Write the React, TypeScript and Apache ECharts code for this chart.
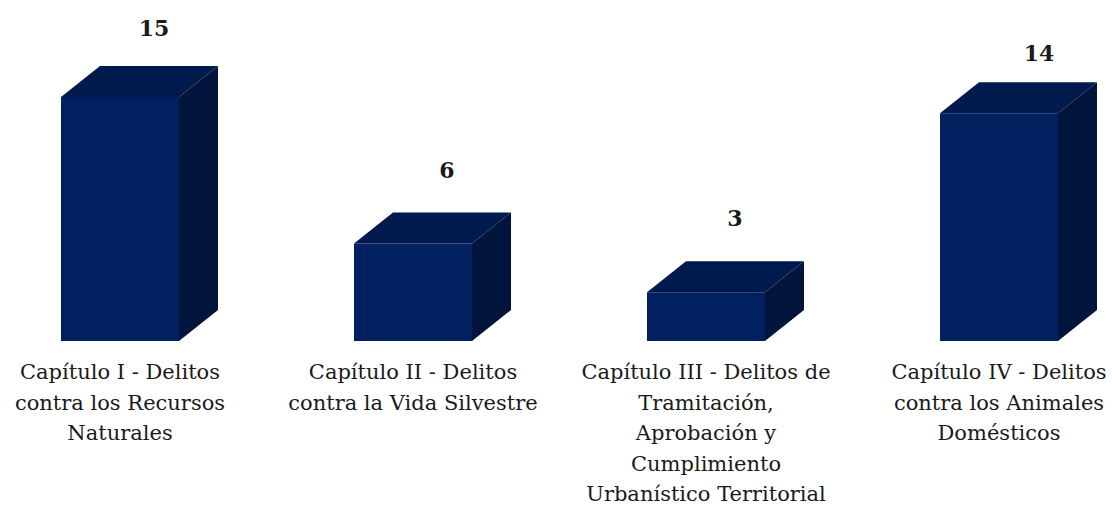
import React, { useEffect, useRef } from "react";
import * as echarts from "echarts";

const categories = [
  "Capítulo I - Delitos\ncontra los Recursos\nNaturales",
  "Capítulo II - Delitos\ncontra la Vida Silvestre",
  "Capítulo III - Delitos de\nTramitación,\nAprobación y\nCumplimiento\nUrbanístico Territorial",
  "Capítulo IV - Delitos\ncontra los Animales\nDomésticos",
];
const values = [15, 6, 3, 14];

const labelShiftX = [34, 34, 29, 40];
const labelLift = [69, 73, 74, 60];

const FONT = "'DejaVu Serif', 'Liberation Serif', serif";

export default function App() {
  const ref = useRef<HTMLDivElement>(null);
  useEffect(() => {
    document.body.style.margin = "0";
    const chart = echarts.init(ref.current!, undefined, { renderer: "svg" });
    chart.setOption({
      animation: false,
      backgroundColor: "#ffffff",
      grid: { left: 120, top: 97, width: 879, height: 244, containLabel: false, outerBoundsMode: "none" },
      xAxis: {
        type: "category",
        data: categories,
        boundaryGap: false,
        axisLine: { show: false },
        axisTick: { show: false },
        axisLabel: {
          interval: 0,
          margin: 16,
          fontFamily: FONT,
          fontSize: 21,
          lineHeight: 30.5,
          color: "#1a1a1a",
          verticalAlign: "top",
          hideOverlap: false,
          showMinLabel: true,
          showMaxLabel: true,
        },
      },
      yAxis: { type: "value", min: 0, max: 15, show: false },
      series: [
        {
          type: "custom",
          clip: false,
          data: values.map((v, i) => [i, v]),
          encode: { x: 0, y: 1 },
          renderItem: (p: any, api: any) => {
            const [cx, top] = api.coord([api.value(0), api.value(1)]);
            const [, base] = api.coord([api.value(0), 0]);
            const hw = 59, dx = 39, dy = 31;
            const l = cx - hw, r = cx + hw;
            return {
              type: "group",
              children: [
                { type: "rect", shape: { x: l, y: top, width: r - l, height: base - top }, style: { fill: "#002060" } },
                { type: "polygon", shape: { points: [[l, top], [l + dx, top - dy], [r + dx, top - dy], [r, top]] }, style: { fill: "#001A4D" } },
                { type: "polygon", shape: { points: [[r, top], [r + dx, top - dy], [r + dx, base - dy], [r, base]] }, style: { fill: "#00143C" } },
                {
                  type: "text",
                  style: {
                    text: String(api.value(1)),
                    x: cx + labelShiftX[p.dataIndex],
                    y: top - labelLift[p.dataIndex],
                    align: "center",
                    verticalAlign: "middle",
                    fontFamily: FONT,
                    fontSize: 22,
                    fontWeight: "bold",
                    fill: "#1a1a1a",
                  },
                },
              ],
            };
          },
        },
      ],
    });
    return () => chart.dispose();
  }, []);
  return <div ref={ref} style={{ width: 1112, height: 506 }} />;
}
